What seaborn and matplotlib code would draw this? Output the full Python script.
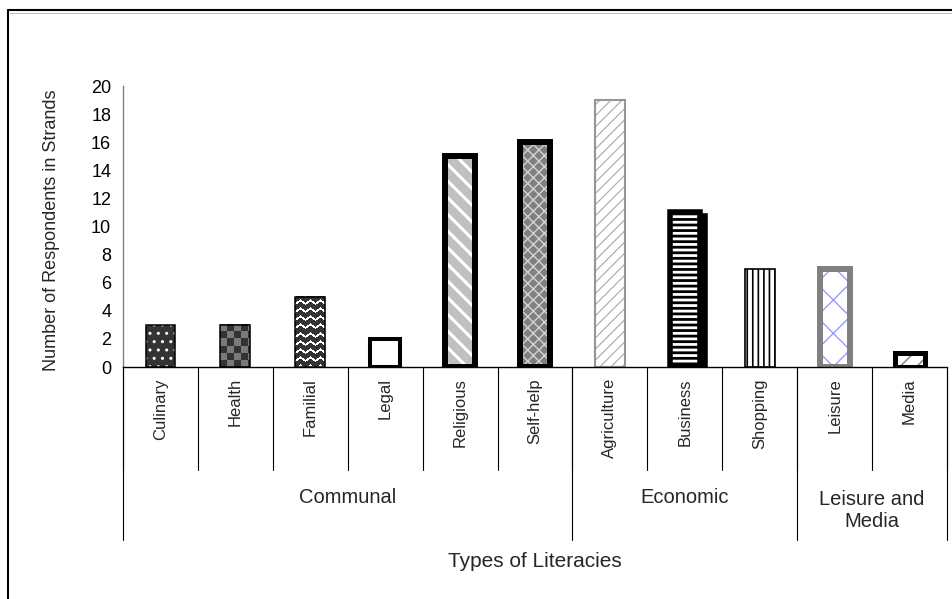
import numpy as np
import matplotlib
matplotlib.use("Agg")
import matplotlib.pyplot as plt
import seaborn as sns
from matplotlib.patches import Rectangle
from matplotlib.lines import Line2D
from matplotlib.colors import ListedColormap
from matplotlib.transforms import ScaledTranslation

# ---- data -------------------------------------------------------------
categories = ["Culinary", "Health", "Familial", "Legal", "Religious", "Self-help",
              "Agriculture", "Business", "Shopping", "Leisure", "Media"]
respondents = [3, 3, 5, 2, 15, 16, 19, 11, 7, 7, 1]
groups = ["Communal", "Economic", "Leisure and\nMedia"]
group_sizes = [6, 3, 2]
y_ticks = list(range(0, 21, 2))

# ---- bar styling --------------------------------------------------------
face_colors = ["#333333", "#7a7a7a", "#333333", "#ffffff", "#c0c0c0", "#808080",
               "#ffffff", "#ffffff", "#ffffff", "#ffffff", "#ffffff"]
hatches = ["..", None, None, None, "\\\\", "xxx", "///", "---", "|||", "x", "//"]
hatch_colors = ["#ffffff", None, None, None, "#ffffff", "#d4d4d4", "#a8a8a8",
                "#000000", "#000000", "#9a9aff", "#8c8c8c"]
hatch_widths = [1.0, 0, 0, 0, 2.2, 1.0, 0.8, 2.0, 1.2, 1.0, 1.2]
edge_colors = ["#000000", "#000000", "#000000", "#000000", "#000000", "#000000",
               "#969696", "#000000", "#000000", "#808080", "#000000"]
edge_widths = [1.1, 1.1, 1.1, 2.9, 4.3, 4.3, 1.5, 4.0, 1.2, 4.3, 3.6]
textures = [None, "checker", "waves", None, None, None, None, None, None, None, None]
shadowed = [False] * 7 + [True] + [False] * 3

sns.set_style("white")
plt.rcParams["font.family"] = ["Liberation Sans", "DejaVu Sans"]

fig = plt.figure(figsize=(9.53, 5.99), dpi=100)
ax = fig.add_axes([0.1291, 0.3873, 0.8646, 0.4691])

sns.barplot(x=categories, y=respondents, hue=categories, palette=face_colors,
            width=0.4, saturation=1, legend=False, ax=ax,
            linewidth=0, edgecolor="none")

ax.set_xlim(-0.5, 10.5)
ax.set_ylim(0, 20)

bars = list(ax.patches)[:len(categories)]


def pixel_box(patch):
    x0, y0 = patch.get_x(), patch.get_y()
    x1, y1 = x0 + patch.get_width(), y0 + patch.get_height()
    (px0, py0), (px1, py1) = ax.transData.transform([(x0, y0), (x1, y1)])
    return (x0, x1, y0, y1), max(int(round(abs(px1 - px0))), 1), max(int(round(abs(py1 - py0))), 1)


for i, bar in enumerate(bars):
    bar.set_zorder(1)
    x0, y0 = bar.get_x(), bar.get_y()
    w, h = bar.get_width(), bar.get_height()

    # drop shadow behind the bar
    if shadowed[i]:
        shadow = Rectangle((x0, y0), w, h, facecolor="black", edgecolor="black",
                           linewidth=edge_widths[i], zorder=0.9,
                           transform=ax.transData + ScaledTranslation(5 / 100, -4 / 100, fig.dpi_scale_trans))
        ax.add_patch(shadow)

    # pixel textures
    if textures[i] is not None:
        extent, wp, hp = pixel_box(bar)
        yy, xx = np.mgrid[0:hp, 0:wp]
        if textures[i] == "checker":
            arr = ((yy // 7 + xx // 7) % 2).astype(float)
            cmap = ListedColormap(["#333333", "#7a7a7a"])
        else:
            tri = np.abs(((xx / 10.0) % 1.0) * 2 - 1) * 3.5
            arr = (((yy + tri) % 8) < 2.2).astype(float)
            cmap = ListedColormap(["#333333", "#ffffff"])
        ax.imshow(arr, cmap=cmap, extent=extent, origin="lower",
                  interpolation="nearest", aspect="auto", zorder=1.2, vmin=0, vmax=1)

    # hatch layer
    if hatches[i]:
        with plt.rc_context({"hatch.linewidth": hatch_widths[i],
                             "hatch.color": hatch_colors[i]}):
            hp_rect = Rectangle((x0, y0), w, h, facecolor="none",
                                edgecolor=hatch_colors[i], linewidth=0,
                                hatch=hatches[i], zorder=1.5)
            if hasattr(hp_rect, "set_hatch_linewidth"):
                hp_rect.set_hatch_linewidth(hatch_widths[i])
            ax.add_patch(hp_rect)

    # outline
    ax.add_patch(Rectangle((x0, y0), w, h, facecolor="none",
                           edgecolor=edge_colors[i], linewidth=edge_widths[i],
                           joinstyle="miter", zorder=2))

ax.set_xlim(-0.5, 10.5)
ax.set_ylim(0, 20)

# ---- axes styling -------------------------------------------------------
for side in ("top", "right"):
    ax.spines[side].set_visible(False)
ax.spines["left"].set_color("#808080")
ax.spines["left"].set_linewidth(1.0)
ax.spines["bottom"].set_color("black")
ax.spines["bottom"].set_linewidth(1.0)
ax.spines["bottom"].set_zorder(3)

ax.set_yticks(y_ticks)
ax.tick_params(axis="y", length=4.5, width=1, color="#808080", pad=4,
               labelsize=13, labelcolor="black")
ax.set_xticks(range(len(categories)))
ax.set_xticklabels(categories, rotation=90, fontsize=12)
ax.tick_params(axis="x", length=0, pad=8)

ax.set_ylabel("Number of Respondents in Strands", fontsize=13)
ax.yaxis.set_label_coords(-0.077, 0.4875)
ax.set_xlabel("Types of Literacies", fontsize=15)
ax.xaxis.set_label_coords(0.5, -0.66)

# category and group dividers below the axis
trans = ax.get_xaxis_transform()
for b in np.arange(-0.5, len(categories)):
    ax.add_line(Line2D([b, b], [0, -0.3665], transform=trans, clip_on=False,
                       color="black", lw=0.8))
bounds = -0.5 + np.cumsum([0] + group_sizes)
for b in bounds:
    ax.add_line(Line2D([b, b], [0, -0.6157], transform=trans, clip_on=False,
                       color="black", lw=0.8))
for name, start, end in zip(groups, bounds[:-1], bounds[1:]):
    yc = -0.509 if "\n" in name else -0.466
    ax.text((start + end) / 2, yc, name, transform=trans, ha="center", va="center",
            multialignment="center", fontsize=14.5, linespacing=1.2)

# outer frame of the chart area
fig.add_artist(Line2D([8 / 953, 1], [1 - 10 / 599, 1 - 10 / 599], transform=fig.transFigure,
                      color="black", lw=1.5))
fig.add_artist(Line2D([10 / 953, 1], [1 - 12.5 / 599, 1 - 12.5 / 599], transform=fig.transFigure,
                      color="#c0c0c0", lw=0.8))
fig.add_artist(Line2D([8 / 953, 8 / 953], [0, 1 - 10 / 599], transform=fig.transFigure,
                      color="black", lw=1.5))

fig.savefig("out.png", dpi=100)
